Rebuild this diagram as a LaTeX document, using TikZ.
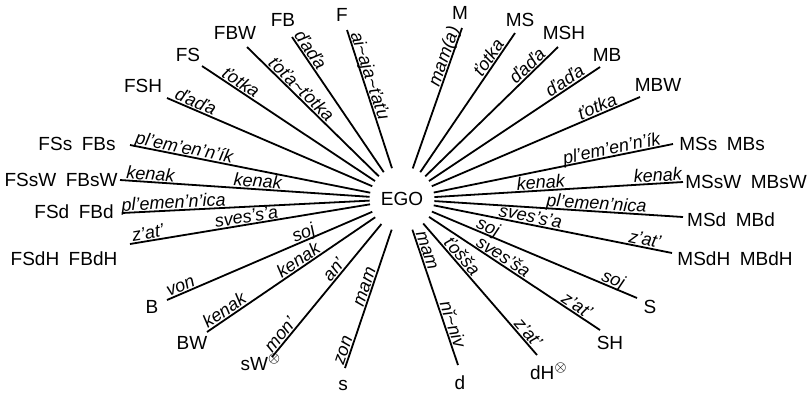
\documentclass[tikz,border=0pt]{standalone}
\usepackage{fontspec}
\setmainfont{Liberation Sans}
\usetikzlibrary{positioning}
\tikzset {
  ego/.style = {circle, minimum size=32pt, inner sep=0pt, font=\fontsize{9.5}{11}\selectfont},
  kin/.style = {inner sep=1pt, font=\fontsize{9.5}{11}\selectfont},
  term/.style = {sloped, anchor=base, inner sep=0pt, yshift=1pt, font=\fontsize{9}{10}\selectfont\itshape},
  ray/.style = {line width=0.9pt, color=black}
}

\begin{document}
\begin{tikzpicture}[x=0.5pt, y=-0.5pt]
    \useasboundingbox (0,0) rectangle (808,393);

    \node[ego, name=ego] (ego) at (402,199) {EGO};

    % father's side
    \node[kin, name=f] (f) at (342,15) {F};
    \node[kin, name=fb] (fb) at (283,20) {FB};
    \node[kin, name=fbw] (fbw) at (235,33) {FBW};
    \node[kin, name=fs] (fs) at (188,55) {FS};
    \node[kin, name=fsh] (fsh) at (143,86) {FSH};
    \node[kin, name=fss] (fss) at (77,144) {FSs\enspace FBs};
    \node[kin, name=fssw] (fssw) at (61,180) {FSsW\enspace FBsW};
    \node[kin, name=fsd] (fsd) at (74,212) {FSd\enspace FBd};
    \node[kin, name=fsdh] (fsdh) at (64,259) {FSdH\enspace FBdH};

    % mother's side
    \node[kin, name=m] (m) at (460,13) {M};
    \node[kin, name=ms] (ms) at (520,20) {MS};
    \node[kin, name=msh] (msh) at (564,33) {MSH};
    \node[kin, name=mb] (mb) at (607,55) {MB};
    \node[kin, name=mbw] (mbw) at (658,85) {MBW};
    \node[kin, name=mss] (mss) at (722,144) {MSs\enspace MBs};
    \node[kin, name=mssw] (mssw) at (746,182) {MSsW\enspace MBsW};
    \node[kin, name=msd] (msd) at (731,220) {MSd\enspace MBd};
    \node[kin, name=msdh] (msdh) at (735,259) {MSdH\enspace MBdH};

    % own generation and below
    \node[kin, name=b] (b) at (152,307) {B};
    \node[kin, name=bw] (bw) at (192,343) {BW};
    \node[kin, name=sw] (sw) at (261,362) {sW$^{\otimes}$};
    \node[kin, name=son] (son) at (343,385) {s};
    \node[kin, name=dau] (dau) at (460,383) {d};
    \node[kin, name=dh] (dh) at (549,371) {dH$^{\otimes}$};
    \node[kin, name=sh] (sh) at (610,343) {SH};
    \node[kin, name=sis] (sis) at (650,307) {S};

    % free ends of the rays
    \coordinate (ef) at (347,30);
    \coordinate (efb) at (292,37);
    \coordinate (efbw) at (247,47);
    \coordinate (efs) at (202,66);
    \coordinate (efsh) at (167,98);
    \coordinate (efss) at (130,145);
    \coordinate (efssw) at (120,180);
    \coordinate (efsd) at (122,213);
    \coordinate (efsdh) at (130,244);
    \coordinate (em) at (462,28);
    \coordinate (ems) at (515,33);
    \coordinate (emsh) at (558,47);
    \coordinate (emb) at (600,67);
    \coordinate (embw) at (640,97);
    \coordinate (emss) at (673,144);
    \coordinate (emssw) at (683,182);
    \coordinate (emsd) at (683,217);
    \coordinate (emsdh) at (672,253);
    \coordinate (eb) at (167,300);
    \coordinate (ebw) at (207,332);
    \coordinate (esw) at (272,357);
    \coordinate (eson) at (345,368);
    \coordinate (edau) at (458,365);
    \coordinate (edh) at (537,355);
    \coordinate (esh) at (600,330);
    \coordinate (esis) at (637,298);

    \draw[ray] (ego) -- (ef) node[term, pos=0.65] {ai\textasciitilde aja\textasciitilde ťaťu};
    \draw[ray] (ego) -- (efb) node[term, pos=0.87] {ďaďa};
    \draw[ray] (ego) -- (efbw) node[term, pos=0.63] {ťoťa\textasciitilde ťotka};
    \draw[ray] (ego) -- (efs) node[term, pos=0.80] {ťotka};
    \draw[ray] (ego) -- (efsh) node[term, pos=0.875] {ďaďa};
    \draw[ray] (ego) -- (efss) node[term, pos=0.78] {pl'em'en'n'ík};
    \draw[ray] (ego) -- (efssw) node[term, pos=0.88] {kenak} node[term, pos=0.45] {kenak};
    \draw[ray] (ego) -- (efsd) node[term, pos=0.79] {pl'emen'n'ica};
    \draw[ray] (ego) -- (efsdh) node[term, pos=0.92] {z'at'} node[term, pos=0.51] {sves's'a};

    \draw[ray] (ego) -- (em) node[term, pos=0.78] {mam(a)};
    \draw[ray] (ego) -- (ems) node[term, pos=0.79] {ťotka};
    \draw[ray] (ego) -- (emsh) node[term, pos=0.81] {ďaďa};
    \draw[ray] (ego) -- (emb) node[term, pos=0.82] {ďaďa};
    \draw[ray] (ego) -- (embw) node[term, pos=0.81] {ťotka};
    \draw[ray] (ego) -- (emss) node[term, pos=0.75] {pl'em'en'n'ík};
    \draw[ray] (ego) -- (emssw) node[term, pos=0.43] {kenak} node[term, pos=0.90] {kenak};
    \draw[ray] (ego) -- (emsd) node[term, pos=0.65] {pl'emen'nica};
    \draw[ray] (ego) -- (emsdh) node[term, pos=0.40] {sves's'a} node[term, pos=0.88] {z'at'};

    \draw[ray] (ego) -- (eb) node[term, pos=0.92] {von} node[term, pos=0.32] {soj};
    \draw[ray] (ego) -- (ebw) node[term, pos=0.87] {kenak} node[term, pos=0.43] {kenak};
    \draw[ray] (ego) -- (esw) node[term, pos=0.87] {mon'} node[term, pos=0.38] {an'};
    \draw[ray] (ego) -- (eson) node[term, pos=0.89] {zon} node[term, pos=0.43] {mam};
    \draw[ray] (ego) -- (edau) node[term, pos=0.17] {mam} node[term, pos=0.72] {nĭ\textasciitilde niv};
    \draw[ray] (ego) -- (edh) node[term, pos=0.29] {ťošša} node[term, pos=0.87] {z'at'};
    \draw[ray] (ego) -- (esh) node[term, pos=0.41] {sves'ša} node[term, pos=0.84] {z'at'};
    \draw[ray] (ego) -- (esis) node[term, pos=0.26] {soj} node[term, pos=0.87] {soj};

  \end{tikzpicture}
\end{document}
